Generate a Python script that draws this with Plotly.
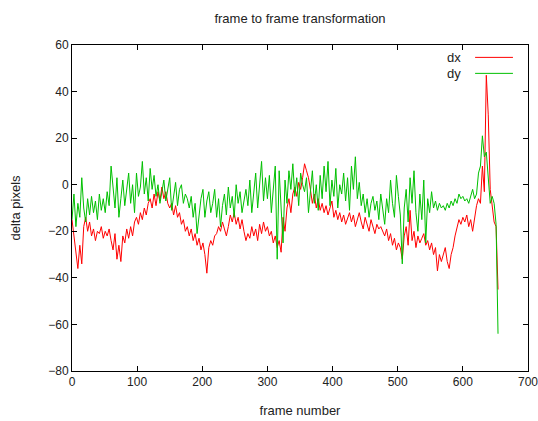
import plotly.graph_objects as go

dx = [
    -15, -22, -30, -36, -26, -34, -18, -14, -20, -16,
    -22, -19, -24, -20, -21, -18, -23, -20, -22, -19,
    -24, -28, -21, -32, -26, -33, -22, -25, -19, -23,
    -18, -22, -16, -14, -17, -12, -15, -10, -13, -8,
    -6, -10, -4, -9, -3, -7, -1, -6, -3, -8,
    -10, -8, -13, -9, -14, -12, -17, -15, -20, -18,
    -22, -19, -24, -21, -26, -23, -28, -25, -30, -38,
    -27, -24, -26, -22, -21, -18, -20, -16, -19, -22,
    -18, -13, -16, -12, -17, -14, -19, -15, -20, -24,
    -21, -23, -18, -22, -19, -24, -17, -21, -16, -20,
    -18, -22, -20, -25, -22, -27, -24, -29, -14, -20,
    -10, -6, -12, -4, -1, -5, 1, -2, 3, 9,
    6, 3, -2, -8, -4, -10, -6, -11, -8, -12,
    -9, -13, -10, -7, -14, -11, -15, -12, -16, -13,
    -17, -14, -12, -16, -13, -18, -15, -12, -16, -19,
    -14, -17, -20, -15, -18, -21, -17, -19, -18, -20,
    -22, -19, -24, -21, -26, -23, -28, -25, -27, -32,
    -22, -18, -26, -11, -24, -20, -27, -22, -25, -23,
    -21, -26, -24, -28, -25, -30, -27, -37, -30, -33,
    -30, -27, -33, -36, -30, -27, -22, -18, -15, -17,
    -14, -16, -13, -18, -15, -20, -14, -9, -6, -8,
    8, -3, 47, 30, -2, -8, -16, -18, -45,
]

dy = [
    -15, -4, -18, -8, -14, 3, -10, -16, -6, -13,
    -5, -12, -7, -15, -4, -11, -6, -12, -3, -9,
    8, -2, -10, 3, -14, -6, 2, -9, -3, 5,
    -8, 0, -12, 5, -5, -1, 10, -4, 3, -7,
    7, -2, 4, -5, 0, -8, -3, 2, -7, -1,
    3, -11, -4, 1, -9, -2, 0, -8, -4, -6,
    -10, -5, -14, -8, -21, -12, -6, -2, -14, -7,
    -3, -12, -8, -2, -14, -6, -18, -9, -4, -13,
    -1, -10, -5, -14, 0, -8, -3, -12, -6, -2,
    -9, 2, -12, -4, 5, -10, -1, 10, -7, 3,
    -6, 4, -12, -3, 8, -32, 6, -10, -25, 2,
    -8, 6, -2, 9, -5, 3, -9, 5, 0, -3,
    3, -12, -2, 6, -8, 0, -11, 4, -6, 8,
    -3, 10, -9, 2, -5, 7, -10, 0, -4, 5,
    -7, 3, -11, 8, -2, 12, -6, 1, -9, -4,
    -12, -6, -14, -8, -5, -11, -7, -15, -4, -10,
    -17, -6, -12, 2, -8, -14, 4, -5, -13, -34,
    -10, -2, -16, 3, -8, 6, -12, -20, -4, -15,
    2, -25, -6, -12, -3, -10, -7, -11, -8, -10,
    -9, -11, -8, -10, -7, -9, -6, -8, -4, -6,
    -5, -7, -6, -8, -5, -2, -6, -4, 5, 8,
    21, 12, 14, 3, -8, -5, -8, -17, -64,
]

frames = [3 * i for i in range(len(dx))]

x_ticks = [0, 100, 200, 300, 400, 500, 600, 700]
y_ticks = [-80, -60, -40, -20, 0, 20, 40, 60]

FONT = "Liberation Sans, Arial, sans-serif"
RED = "#ff0000"
GREEN = "#00c000"

fig = go.Figure()
fig.add_trace(go.Scatter(x=frames, y=dx, mode="lines", name="dx",
                         line=dict(color=RED, width=1)))
fig.add_trace(go.Scatter(x=frames, y=dy, mode="lines", name="dy",
                         line=dict(color=GREEN, width=1)))

axis_common = dict(
    showgrid=False, zeroline=False, showline=True, linecolor="#000000",
    linewidth=1, mirror="ticks", ticks="inside", ticklen=5,
    tickcolor="#000000", tickfont=dict(family=FONT, size=12, color="#222222"),
    ticklabeloverflow="allow", automargin=False,
)
fig.update_xaxes(range=[0, 700], tickvals=x_ticks,
                 title=dict(text="frame number", font=dict(family=FONT, size=13, color="#222222"), standoff=17),
                 **axis_common)
fig.update_yaxes(range=[-80, 60], tickvals=y_ticks,
                 title=dict(text="delta pixels", font=dict(family=FONT, size=13, color="#222222"), standoff=24),
                 **axis_common)

# gnuplot-style key: label then line sample
for label, color, yp in [("dx", RED, 0.962), ("dy", GREEN, 0.913)]:
    fig.add_annotation(xref="paper", yref="paper", x=0.858, y=yp, text=label,
                       showarrow=False, xanchor="right", yanchor="middle",
                       font=dict(family=FONT, size=13, color="#222222"))
    fig.add_shape(type="line", xref="paper", yref="paper", x0=0.884, x1=0.967,
                  y0=yp, y1=yp, line=dict(color=color, width=1))

fig.update_layout(
    width=538, height=421,
    margin=dict(l=72, r=10, t=45, b=50, autoexpand=False),
    paper_bgcolor="white", plot_bgcolor="white",
    showlegend=False,
    title=dict(text="frame to frame transformation", x=0.5, xref="paper",
               y=0.957, yref="container", yanchor="middle",
               font=dict(family=FONT, size=13, color="#222222")),
)

fig.write_html(
    "out.html",
    config={"displayModeBar": False},
    post_script="document.body.style.margin='0';document.body.style.overflow='hidden';",
)
